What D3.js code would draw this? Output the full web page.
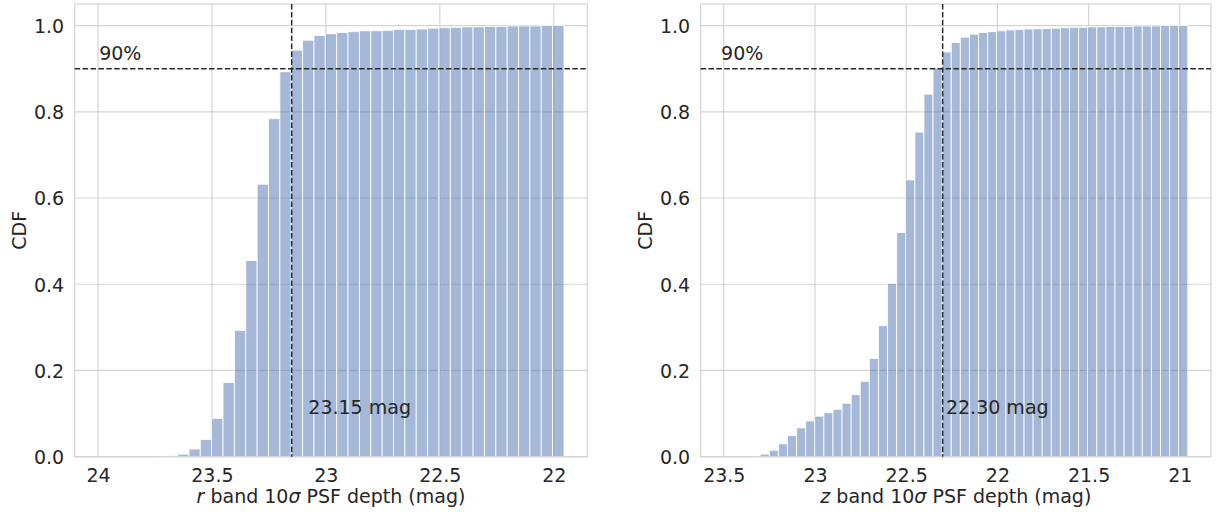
<!DOCTYPE html>
<html>
<head>
<meta charset="utf-8">
<script src="https://cdn.jsdelivr.net/npm/d3@7"></script>
<style>
  html, body { margin: 0; padding: 0; background: #ffffff; }
  svg { display: block; }
  text { font-family: "DejaVu Sans", sans-serif; fill: #262626; }
</style>
</head>
<body>
<svg id="chart" width="1217" height="517"></svg>
<script>
// Cumulative distribution of 10-sigma PSF depth, one histogram per band.
// Bins run from the faint end (left) to the bright end (right).

// r band
const rBinFaint = 24.0;
const rBinBright = 21.955;
const rCdf = [
  0, 0, 0, 0, 0, 0.0005, 0.002, 0.006, 0.018, 0.040,
  0.089, 0.172, 0.293, 0.455, 0.632, 0.784, 0.893, 0.943, 0.966, 0.977,
  0.981, 0.984, 0.986, 0.988, 0.988, 0.989, 0.991, 0.991, 0.992, 0.994,
  0.995, 0.996, 0.997, 0.997, 0.998, 0.998, 0.999, 0.999, 0.999, 1.000,
  1.000
];
const rDepth90 = 23.15;
const rTicks = [24, 23.5, 23, 22.5, 22];

// z band
const zBinFaint = 23.5;
const zBinBright = 20.956;
const zCdf = [
  0, 0, 0, 0.0005, 0.006, 0.015, 0.030, 0.049, 0.067, 0.083,
  0.094, 0.102, 0.110, 0.124, 0.144, 0.175, 0.228, 0.304, 0.402, 0.520,
  0.642, 0.753, 0.841, 0.901, 0.939, 0.961, 0.973, 0.980, 0.984, 0.986,
  0.988, 0.990, 0.991, 0.992, 0.9925, 0.993, 0.994, 0.995, 0.996, 0.996,
  0.997, 0.997, 0.998, 0.998, 0.998, 0.999, 0.999, 0.999, 1.000, 1.000,
  1.000
];
const zDepth90 = 22.30;
const zTicks = [23.5, 23, 22.5, 22, 21.5, 21];

const yTicks = [0, 0.2, 0.4, 0.6, 0.8, 1.0];
const level = 0.9;

const svg = d3.select("#chart");
const FONT = 19;

function panel(cfg) {
  const { left, right, top, bottom, faint, bright, cdf, depth, ticks,
          band, labelX, textShift, pctX, tickFmt } = cfg;
  const span = faint - bright;
  const xScale = d3.scaleLinear()
    .domain([faint + 0.05 * span, bright - 0.05 * span])
    .range([left, right]);
  const yScale = d3.scaleLinear().domain([0, 1.05]).range([bottom, top]);
  const w = span / cdf.length;

  const g = svg.append("g");

  // grid
  g.append("g").selectAll("line.gx").data(ticks).join("line")
    .attr("x1", d => xScale(d)).attr("x2", d => xScale(d))
    .attr("y1", top).attr("y2", bottom)
    .attr("stroke", "#d4d4d4").attr("stroke-width", 1.2);
  g.append("g").selectAll("line.gy").data(yTicks).join("line")
    .attr("x1", left).attr("x2", right)
    .attr("y1", d => yScale(d)).attr("y2", d => yScale(d))
    .attr("stroke", "#d4d4d4").attr("stroke-width", 1.2);

  // bars
  g.append("g").selectAll("rect").data(cdf).join("rect")
    .attr("x", (d, i) => xScale(faint - i * w))
    .attr("width", (d, i) => xScale(faint - (i + 1) * w) - xScale(faint - i * w))
    .attr("y", d => yScale(d))
    .attr("height", d => yScale(0) - yScale(d))
    .attr("fill", "#4C72B0").attr("fill-opacity", 0.5)
    .attr("stroke", "#ffffff").attr("stroke-opacity", 0.85).attr("stroke-width", 1);

  // frame
  g.append("rect")
    .attr("x", left).attr("y", top)
    .attr("width", right - left).attr("height", bottom - top)
    .attr("fill", "none").attr("stroke", "#d4d4d4").attr("stroke-width", 1.2);

  // reference lines
  g.append("line")
    .attr("x1", left).attr("x2", right)
    .attr("y1", yScale(level)).attr("y2", yScale(level))
    .attr("stroke", "#2b2b2b").attr("stroke-width", 1.5)
    .attr("stroke-dasharray", "5.5,2.4");
  g.append("line")
    .attr("x1", xScale(depth)).attr("x2", xScale(depth))
    .attr("y1", top).attr("y2", bottom)
    .attr("stroke", "#2b2b2b").attr("stroke-width", 1.5)
    .attr("stroke-dasharray", "5.5,2.4");

  // annotations
  g.append("text")
    .attr("x", xScale(pctX)).attr("y", yScale(0.92))
    .attr("font-size", FONT).text("90%");
  g.append("text")
    .attr("x", xScale(depth - textShift)).attr("y", yScale(0.1))
    .attr("font-size", FONT).text(depth.toFixed(2) + " mag");

  // x axis
  const xAxis = d3.axisBottom(xScale).tickValues(ticks).tickSize(0)
    .tickPadding(0).tickFormat(tickFmt);
  const xg = g.append("g").attr("transform", `translate(0,${bottom})`).call(xAxis);
  xg.select(".domain").remove();
  xg.selectAll("text").attr("font-size", FONT)
    .attr("font-family", "DejaVu Sans").attr("fill", "#262626")
    .attr("dy", null).attr("y", 25.5);

  // y axis
  const yAxis = d3.axisLeft(yScale).tickValues(yTicks).tickSize(0)
    .tickPadding(10.5).tickFormat(d3.format(".1f"));
  const yg = g.append("g").attr("transform", `translate(${left},0)`).call(yAxis);
  yg.select(".domain").remove();
  yg.selectAll("text").attr("font-size", FONT)
    .attr("font-family", "DejaVu Sans").attr("fill", "#262626")
    .attr("dy", "0.36em");

  // axis titles
  const xt = g.append("text")
    .attr("x", (left + right) / 2).attr("y", 503)
    .attr("text-anchor", "middle").attr("font-size", FONT);
  xt.append("tspan").attr("font-style", "italic").text(band);
  xt.append("tspan").text(" band 10");
  xt.append("tspan").attr("font-style", "italic").text("σ");
  xt.append("tspan").text(" PSF depth (mag)");

  g.append("text")
    .attr("transform", `translate(${labelX},${(top + bottom) / 2}) rotate(-90)`)
    .attr("text-anchor", "middle").attr("font-size", FONT).text("CDF");
}

const tickFmt = d => (Number.isInteger(d) ? d3.format("d")(d) : d3.format(".1f")(d));

panel({
  left: 74.7, right: 587.3, top: 4, bottom: 456.7,
  faint: rBinFaint, bright: rBinBright, cdf: rCdf, depth: rDepth90,
  ticks: rTicks, band: "r", labelX: 25.5, textShift: 0.073, pctX: 23.995,
  tickFmt
});

panel({
  left: 700.6, right: 1211, top: 4, bottom: 456.7,
  faint: zBinFaint, bright: zBinBright, cdf: zCdf, depth: zDepth90,
  ticks: zTicks, band: "z", labelX: 651.5, textShift: 0.018, pctX: 23.515,
  tickFmt
});
</script>
</body>
</html>
